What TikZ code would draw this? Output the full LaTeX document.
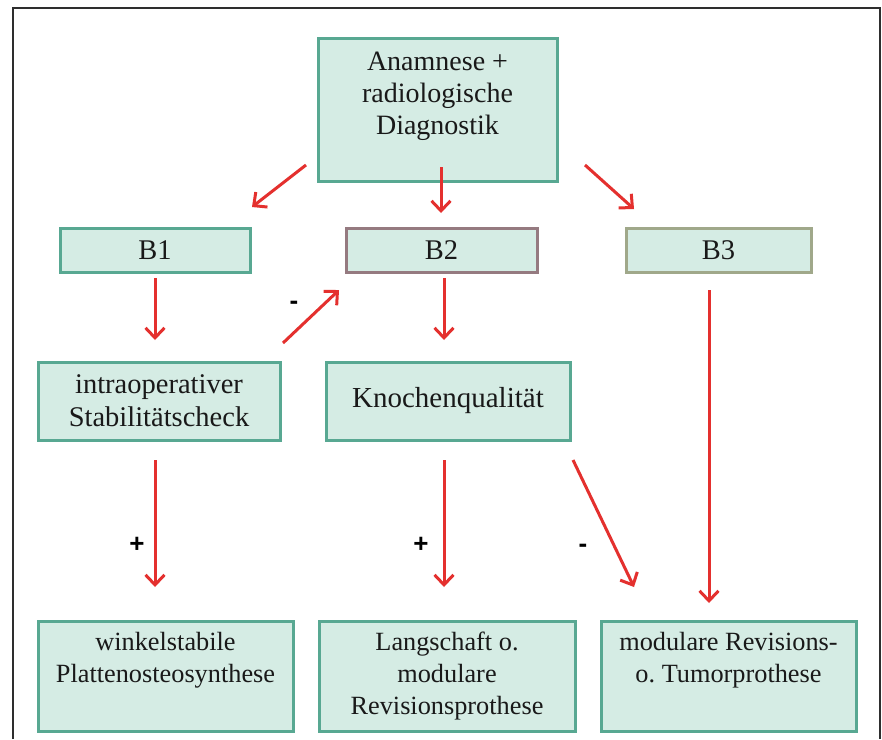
\documentclass[tikz,border=0pt]{standalone}
\usepackage{fontspec}
\setmainfont{Liberation Serif}
\newfontfamily\labfont{Liberation Sans}
\usetikzlibrary{arrows.meta}
\frenchspacing
\definecolor{boxfill}{HTML}{D5ECE4}
\definecolor{boxline}{HTML}{58A892}
\definecolor{btwoline}{HTML}{957A80}
\definecolor{bthreeline}{HTML}{A0A88A}
\definecolor{arrowred}{HTML}{E4302E}
\definecolor{framegray}{HTML}{2E2E2E}
\tikzset{
  box/.style={draw=boxline, fill=boxfill, line width=3pt, rectangle, inner sep=0pt, outer sep=0pt},
  txt/.style={font=\fontsize{28.5}{33}\selectfont, align=center, inner sep=0pt, text=black!90},
  smalltxt/.style={txt, font=\fontsize{26.3}{32}\selectfont},
  arr/.style={draw=arrowred, line width=3pt, -{Straight Barb[length=10pt,width=19pt,line width=3pt]}},
  sign/.style={font=\labfont\bfseries\fontsize{26}{26}\selectfont, inner sep=0pt}
}
\begin{document}
\begin{tikzpicture}[x=1pt,y=-1pt]
\useasboundingbox (0,0) rectangle (882,739);
\fill[white] (0,0) rectangle (882,739);
% frame
\draw[framegray, line width=2.5pt] (13,739) -- (13,8) -- (880,8) -- (880,739);

% boxes
\node[box, minimum width=239pt, minimum height=143pt] (top) at (437.5,109.5) {};
\node[txt, font=\fontsize{28}{32}\selectfont] (topt) at (437.5,96) {Anamnese +\\radiologische\\Diagnostik};

\node[box, txt, minimum width=190pt, minimum height=44pt] (b1) at (155,250) {B1};
\node[box, txt, draw=btwoline, minimum width=191pt, minimum height=44pt] (b2) at (441.5,250) {B2};
\node[box, txt, draw=bthreeline, minimum width=185pt, minimum height=44pt] (b3) at (718.5,250) {B3};

\node[box, txt, minimum width=242pt, minimum height=78pt] (intra) at (159,401) {intraoperativer\\Stabilitätscheck};
\node[box, txt, font=\fontsize{29}{33}\selectfont, minimum width=244pt, minimum height=78pt] (kq) at (448,401) {Knochenqualität};

\node[box, minimum width=255pt, minimum height=110pt] (wk) at (165.5,676) {};
\node[smalltxt, anchor=base] (wkt) at (165.5,650) {winkelstabile};
\node[smalltxt, anchor=base] (wkt2) at (165.5,682) {Plattenosteosynthese};

\node[box, minimum width=256pt, minimum height=110pt] (ls) at (447,676) {};
\node[smalltxt, anchor=base] (lst) at (447,650) {Langschaft o.};
\node[smalltxt, anchor=base] (lst2) at (447,682) {modulare};
\node[smalltxt, anchor=base] (lst3) at (447,714) {Revisionsprothese};

\node[box, minimum width=255pt, minimum height=110pt] (mr) at (728.5,676) {};
\node[smalltxt, anchor=base] (mrt) at (728.5,650) {modulare Revisions-};
\node[smalltxt, anchor=base] (mrt2) at (728.5,682) {o. Tumorprothese};

% arrow end points
\coordinate (a1s) at (306,165); \coordinate (a1e) at (252,207);
\coordinate (a2s) at (441,167); \coordinate (a2e) at (441,213);
\coordinate (a3s) at (585,165); \coordinate (a3e) at (634,209);
\coordinate (a4s) at (155,278); \coordinate (a4e) at (155,340);
\coordinate (a5s) at (283,343); \coordinate (a5e) at (339,290);
\coordinate (a6s) at (444,278); \coordinate (a6e) at (444,340);
\coordinate (a7s) at (155,460); \coordinate (a7e) at (155,587);
\coordinate (a8s) at (444,460); \coordinate (a8e) at (444,587);
\coordinate (a9s) at (573,460); \coordinate (a9e) at (634,587);
\coordinate (a10s) at (709,290); \coordinate (a10e) at (709,603);

\draw[arr] (a1s) -- (a1e);
\draw[arr] (a2s) -- (a2e);
\draw[arr] (a3s) -- (a3e);
\draw[arr] (a4s) -- (a4e);
\draw[arr] (a5s) -- (a5e);
\draw[arr] (a6s) -- (a6e);
\draw[arr] (a7s) -- (a7e);
\draw[arr] (a8s) -- (a8e);
\draw[arr] (a9s) -- (a9e);
\draw[arr] (a10s) -- (a10e);

% signs
\node[sign] (s1) at (294,305) {-};
\node[sign] (s2) at (137,545) {+};
\node[sign] (s3) at (421,545) {+};
\node[sign] (s4) at (583,548) {-};
\end{tikzpicture}
\end{document}
